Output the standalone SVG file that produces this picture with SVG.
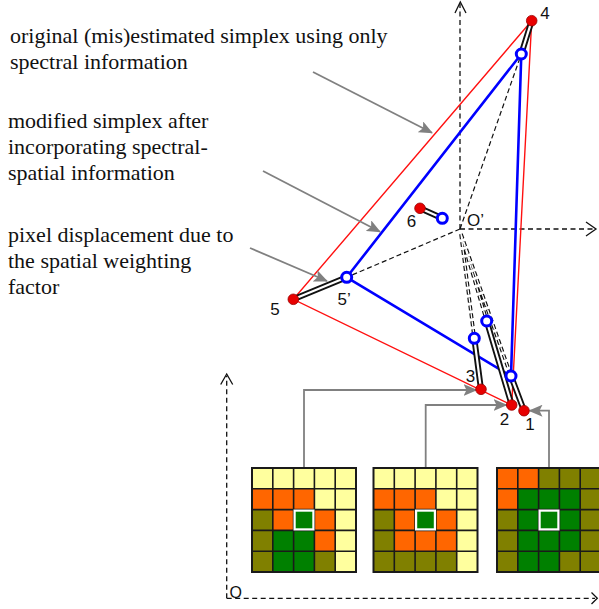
<svg xmlns="http://www.w3.org/2000/svg" width="599" height="609" viewBox="0 0 599 609">
<defs>
<style>
.txt{font-family:"Liberation Serif","Times New Roman",serif;font-size:22px;fill:#111}
.lbl{font-family:"Liberation Sans",Arial,sans-serif;font-size:17px;fill:#111}
.axis{fill:none;stroke:#111;stroke-width:1.3;stroke-dasharray:5,3.5}
.chev{fill:none;stroke:#111;stroke-width:1.3}
.dash{fill:none;stroke:#111;stroke-width:1.2;stroke-dasharray:5,3}
.dd{fill:none;stroke:#111;stroke-width:3.6;stroke-dasharray:5,3}
.ddi{fill:none;stroke:#fff;stroke-width:1.3;stroke-dasharray:5,3}
.red{fill:none;stroke:#ff1010;stroke-width:1.4}
.blue{fill:none;stroke:#0000ff;stroke-width:2.6}
.dblo{stroke:#111;stroke-width:6;stroke-linecap:round}
.dbli{stroke:#fff;stroke-width:2.2;stroke-linecap:round}
.gray{fill:none;stroke:#808080;stroke-width:1.8}
.rp{fill:#e80000;stroke:#900;stroke-width:0.8}
.bp{fill:#fff;stroke:#0000ff;stroke-width:3}
.Y{fill:#ffff9e}.O{fill:#ff6600}.L{fill:#808000}.G{fill:#008000}
.gl{stroke:#1a1a1a;stroke-width:1.6;fill:none}
.hl{fill:none;stroke:#fff;stroke-width:2.2}
</style>
<marker id="ga" markerUnits="userSpaceOnUse" markerWidth="14" markerHeight="12" viewBox="0 0 14 12" refX="13" refY="6" orient="auto">
<path d="M0,0 L14,6 L0,12 L3,6 z" fill="#808080"/>
</marker>
<g id="grid-lines">
<rect x="0" y="0" width="104" height="104" class="gl" style="stroke-width:2"/>
<path class="gl" d="M20.8,0V104M41.6,0V104M62.4,0V104M83.2,0V104M0,20.8H104M0,41.6H104M0,62.4H104M0,83.2H104"/>
<rect x="42.6" y="42.6" width="18.8" height="18.8" class="hl"/>
</g>
</defs>
<rect width="599" height="609" fill="#fff"/>

<g id="texts">
<text class="txt" x="10" y="43">original (mis)estimated simplex using only</text>
<text class="txt" x="10" y="69">spectral information</text>
<text class="txt" x="8" y="128">modified simplex after</text>
<text class="txt" x="8" y="154">incorporating spectral-</text>
<text class="txt" x="8" y="180">spatial information</text>
<text class="txt" x="8" y="242">pixel displacement due to</text>
<text class="txt" x="8" y="268">the spatial weighting</text>
<text class="txt" x="8" y="294">factor</text>
</g>

<g id="axes">
<path class="axis" d="M460,229 V4"/>
<polyline class="chev" points="455,13 460.3,2 466,13"/>
<path class="axis" d="M460,229 H594"/>
<polyline class="chev" points="586,222 596,229 586,236"/>
<path class="axis" d="M226.7,598.3 V376"/>
<polyline class="chev" points="220.7,384.5 226.7,374 232.7,384.5"/>
<path class="axis" d="M226.7,598.3 H595"/>
<polyline class="chev" points="591.5,592.5 597.3,598.3 591.5,604"/>
</g>

<g id="connectors">
<path class="red" d="M531.7,20.7 L293.3,299.3 L511.7,405 Z"/>
<path class="blue" d="M521.3,54 L346.7,277.3 L511,376 Z"/>
<path class="dash" d="M460,229 L521.3,54 M460,229 L346.7,277.3"/>
<path class="dd" d="M461,234 L474.3,338.3 M461,234 L486.7,321 M461,234 L511,376"/>
<path class="ddi" d="M461,234 L474.3,338.3 M461,234 L486.7,321 M461,234 L511,376"/>
<g>
<line class="dblo" x1="531.7" y1="20.7" x2="521.3" y2="54"/>
<line class="dblo" x1="293.3" y1="299.3" x2="346.7" y2="277.3"/>
<line class="dblo" x1="420" y1="208.3" x2="442.3" y2="218.3"/>
<line class="dblo" x1="481" y1="389.3" x2="474.3" y2="338.3"/>
<line class="dblo" x1="511.7" y1="405" x2="486.7" y2="321"/>
<line class="dblo" x1="524" y1="410.7" x2="511" y2="376"/>
<line class="dbli" x1="531.7" y1="20.7" x2="521.3" y2="54"/>
<line class="dbli" x1="293.3" y1="299.3" x2="346.7" y2="277.3"/>
<line class="dbli" x1="420" y1="208.3" x2="442.3" y2="218.3"/>
<line class="dbli" x1="481" y1="389.3" x2="474.3" y2="338.3"/>
<line class="dbli" x1="511.7" y1="405" x2="486.7" y2="321"/>
<line class="dbli" x1="524" y1="410.7" x2="511" y2="376"/>
</g>
<line class="gray" x1="313" y1="72" x2="432" y2="132.7" marker-end="url(#ga)"/>
<line class="gray" x1="263" y1="171" x2="380" y2="231.7" marker-end="url(#ga)"/>
<line class="gray" x1="250" y1="248" x2="327" y2="281" marker-end="url(#ga)"/>
<path class="gray" d="M304,467.7 V390 H476.5" marker-end="url(#ga)"/>
<path class="gray" d="M425.7,467.7 V405 H506.5" marker-end="url(#ga)"/>
<path class="gray" d="M549,467.7 V410.7 H529.5" marker-end="url(#ga)"/>
</g>

<g id="p4"><circle class="rp" cx="531.7" cy="20.7" r="5.3"/><text class="lbl" x="545" y="19" text-anchor="middle">4</text></g>
<g id="p4b"><circle class="bp" cx="521.3" cy="54" r="5"/></g>
<g id="p5"><circle class="rp" cx="293.3" cy="299.3" r="5.3"/><text class="lbl" x="275" y="315" text-anchor="middle">5</text></g>
<g id="p5b"><circle class="bp" cx="346.7" cy="277.3" r="5"/><text class="lbl" x="337.5" y="305">5’</text></g>
<g id="p6"><circle class="rp" cx="420" cy="208.3" r="5.3"/><text class="lbl" x="411.5" y="226.5" text-anchor="middle">6</text></g>
<g id="p6b"><circle class="bp" cx="442.3" cy="218.3" r="5"/></g>
<g id="origin2"><text class="lbl" x="467" y="225.5">O’</text></g>
<g id="p3"><circle class="rp" cx="481" cy="389.3" r="5.3"/><text class="lbl" x="470.5" y="382" text-anchor="middle">3</text></g>
<g id="p3b"><circle class="bp" cx="474.3" cy="338.3" r="5"/></g>
<g id="p2"><circle class="rp" cx="511.7" cy="405" r="5.3"/><text class="lbl" x="504.5" y="425" text-anchor="middle">2</text></g>
<g id="p2b"><circle class="bp" cx="486.7" cy="321" r="5"/></g>
<g id="p1"><circle class="rp" cx="524" cy="410.7" r="5.3"/><text class="lbl" x="530" y="429.5" text-anchor="middle">1</text></g>
<g id="p1b"><circle class="bp" cx="511" cy="376" r="5"/></g>
<g id="origin"><text class="lbl" x="229.5" y="597.5" style="font-size:16px">O</text></g>

<g id="grid1" transform="translate(252,468)">
<rect class="Y" x="0" y="0" width="20.8" height="20.8"/><rect class="Y" x="20.8" y="0" width="20.8" height="20.8"/><rect class="Y" x="41.6" y="0" width="20.8" height="20.8"/><rect class="Y" x="62.4" y="0" width="20.8" height="20.8"/><rect class="Y" x="83.2" y="0" width="20.8" height="20.8"/>
<rect class="O" x="0" y="20.8" width="20.8" height="20.8"/><rect class="O" x="20.8" y="20.8" width="20.8" height="20.8"/><rect class="O" x="41.6" y="20.8" width="20.8" height="20.8"/><rect class="Y" x="62.4" y="20.8" width="20.8" height="20.8"/><rect class="Y" x="83.2" y="20.8" width="20.8" height="20.8"/>
<rect class="L" x="0" y="41.6" width="20.8" height="20.8"/><rect class="O" x="20.8" y="41.6" width="20.8" height="20.8"/><rect class="G" x="41.6" y="41.6" width="20.8" height="20.8"/><rect class="O" x="62.4" y="41.6" width="20.8" height="20.8"/><rect class="Y" x="83.2" y="41.6" width="20.8" height="20.8"/>
<rect class="L" x="0" y="62.4" width="20.8" height="20.8"/><rect class="G" x="20.8" y="62.4" width="20.8" height="20.8"/><rect class="G" x="41.6" y="62.4" width="20.8" height="20.8"/><rect class="O" x="62.4" y="62.4" width="20.8" height="20.8"/><rect class="Y" x="83.2" y="62.4" width="20.8" height="20.8"/>
<rect class="L" x="0" y="83.2" width="20.8" height="20.8"/><rect class="G" x="20.8" y="83.2" width="20.8" height="20.8"/><rect class="G" x="41.6" y="83.2" width="20.8" height="20.8"/><rect class="L" x="62.4" y="83.2" width="20.8" height="20.8"/><rect class="Y" x="83.2" y="83.2" width="20.8" height="20.8"/>
<use href="#grid-lines"/>
</g>

<g id="grid2" transform="translate(373.5,468)">
<rect class="Y" x="0" y="0" width="20.8" height="20.8"/><rect class="Y" x="20.8" y="0" width="20.8" height="20.8"/><rect class="Y" x="41.6" y="0" width="20.8" height="20.8"/><rect class="Y" x="62.4" y="0" width="20.8" height="20.8"/><rect class="Y" x="83.2" y="0" width="20.8" height="20.8"/>
<rect class="O" x="0" y="20.8" width="20.8" height="20.8"/><rect class="O" x="20.8" y="20.8" width="20.8" height="20.8"/><rect class="O" x="41.6" y="20.8" width="20.8" height="20.8"/><rect class="Y" x="62.4" y="20.8" width="20.8" height="20.8"/><rect class="Y" x="83.2" y="20.8" width="20.8" height="20.8"/>
<rect class="L" x="0" y="41.6" width="20.8" height="20.8"/><rect class="O" x="20.8" y="41.6" width="20.8" height="20.8"/><rect class="G" x="41.6" y="41.6" width="20.8" height="20.8"/><rect class="O" x="62.4" y="41.6" width="20.8" height="20.8"/><rect class="Y" x="83.2" y="41.6" width="20.8" height="20.8"/>
<rect class="L" x="0" y="62.4" width="20.8" height="20.8"/><rect class="O" x="20.8" y="62.4" width="20.8" height="20.8"/><rect class="O" x="41.6" y="62.4" width="20.8" height="20.8"/><rect class="O" x="62.4" y="62.4" width="20.8" height="20.8"/><rect class="Y" x="83.2" y="62.4" width="20.8" height="20.8"/>
<rect class="L" x="0" y="83.2" width="20.8" height="20.8"/><rect class="L" x="20.8" y="83.2" width="20.8" height="20.8"/><rect class="L" x="41.6" y="83.2" width="20.8" height="20.8"/><rect class="L" x="62.4" y="83.2" width="20.8" height="20.8"/><rect class="Y" x="83.2" y="83.2" width="20.8" height="20.8"/>
<use href="#grid-lines"/>
</g>

<g id="grid3" transform="translate(497,468)">
<rect class="O" x="0" y="0" width="20.8" height="20.8"/><rect class="O" x="20.8" y="0" width="20.8" height="20.8"/><rect class="L" x="41.6" y="0" width="20.8" height="20.8"/><rect class="L" x="62.4" y="0" width="20.8" height="20.8"/><rect class="L" x="83.2" y="0" width="20.8" height="20.8"/>
<rect class="O" x="0" y="20.8" width="20.8" height="20.8"/><rect class="G" x="20.8" y="20.8" width="20.8" height="20.8"/><rect class="G" x="41.6" y="20.8" width="20.8" height="20.8"/><rect class="G" x="62.4" y="20.8" width="20.8" height="20.8"/><rect class="L" x="83.2" y="20.8" width="20.8" height="20.8"/>
<rect class="L" x="0" y="41.6" width="20.8" height="20.8"/><rect class="G" x="20.8" y="41.6" width="20.8" height="20.8"/><rect class="G" x="41.6" y="41.6" width="20.8" height="20.8"/><rect class="G" x="62.4" y="41.6" width="20.8" height="20.8"/><rect class="L" x="83.2" y="41.6" width="20.8" height="20.8"/>
<rect class="L" x="0" y="62.4" width="20.8" height="20.8"/><rect class="G" x="20.8" y="62.4" width="20.8" height="20.8"/><rect class="G" x="41.6" y="62.4" width="20.8" height="20.8"/><rect class="G" x="62.4" y="62.4" width="20.8" height="20.8"/><rect class="L" x="83.2" y="62.4" width="20.8" height="20.8"/>
<rect class="L" x="0" y="83.2" width="20.8" height="20.8"/><rect class="G" x="20.8" y="83.2" width="20.8" height="20.8"/><rect class="G" x="41.6" y="83.2" width="20.8" height="20.8"/><rect class="L" x="62.4" y="83.2" width="20.8" height="20.8"/><rect class="L" x="83.2" y="83.2" width="20.8" height="20.8"/>
<use href="#grid-lines"/>
</g>
</svg>
